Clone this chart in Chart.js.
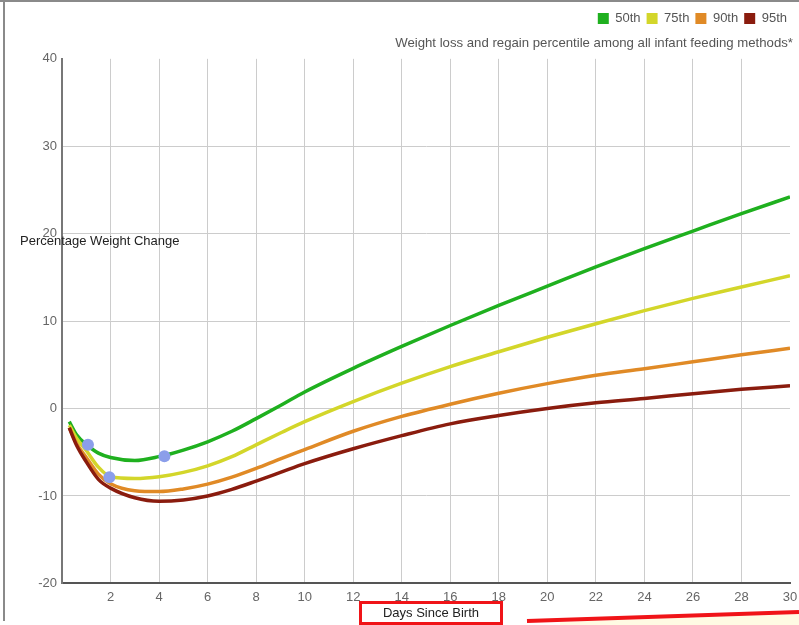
<!DOCTYPE html>
<html>
<head>
<meta charset="utf-8">
<script src="https://cdn.jsdelivr.net/npm/chart.js@4.4.0/dist/chart.umd.min.js"></script>
<style>
  html, body { margin: 0; padding: 0; background: #fff; }
  #wrap { position: relative; width: 799px; height: 625px; }
</style>
</head>
<body>
<div id="wrap"><canvas id="weightChart"></canvas></div>
<script>
// Days since birth and percentile curves (percentage weight change)
const days = [0.3, 0.6, 1, 1.5, 2, 3, 4, 5, 6, 7, 8, 9, 10, 12, 14, 16, 18, 20, 22, 24, 26, 28, 30];
const p50 = [-1.5, -3.0, -4.1, -5.1, -5.6, -5.95, -5.5, -4.75, -3.8, -2.6, -1.15, 0.35, 1.9, 4.6, 7.1, 9.5, 11.8, 14.0, 16.2, 18.3, 20.3, 22.3, 24.2];
const p75 = [-1.9, -3.4, -4.8, -6.7, -7.8, -8.0, -7.8, -7.3, -6.55, -5.5, -4.15, -2.8, -1.5, 0.8, 2.9, 4.8, 6.5, 8.15, 9.7, 11.2, 12.6, 13.9, 15.2];
const p90 = [-2.2, -4.0, -5.6, -7.5, -8.6, -9.4, -9.5, -9.2, -8.65, -7.85, -6.85, -5.75, -4.7, -2.6, -0.9, 0.5, 1.75, 2.85, 3.8, 4.55, 5.35, 6.15, 6.9];
const p95 = [-2.2, -4.2, -6.1, -8.1, -9.1, -10.2, -10.6, -10.45, -10.0, -9.25, -8.3, -7.3, -6.3, -4.6, -3.1, -1.75, -0.8, 0, 0.65, 1.15, 1.7, 2.2, 2.6];

// Highlighted measurements
const markerDays = [1.07, 1.95, 4.22];
const markerValues = [-4.15, -7.85, -5.45];

const seriesNames = ['50th', '75th', '90th', '95th'];
const seriesColors = ['#1fb01f', '#d3d62a', '#e08a26', '#8a1c0e'];
const seriesValues = [p50, p75, p90, p95];

function toPoints(xs, ys) {
    return xs.map((x, i) => ({ x: x, y: ys[i] }));
}

const datasets = seriesValues.map((vals, i) => ({
    label: seriesNames[i],
    data: toPoints(days, vals),
    borderColor: seriesColors[i],
    backgroundColor: seriesColors[i],
    borderWidth: 3.5,
    pointRadius: 0,
    cubicInterpolationMode: 'monotone',
    order: 10 - i
}));

datasets.push({
    label: 'markers',
    data: toPoints(markerDays, markerValues),
    showLine: false,
    pointRadius: 6,
    pointBackgroundColor: '#8b9eea',
    pointBorderWidth: 0,
    order: 0
});

const fontFamily = '"Liberation Sans", Arial, sans-serif';

// Annotations drawn on top: axis titles, frame and the red marks
const extras = {
    id: 'extras',
    afterDraw(chart) {
        const ctx = chart.ctx;
        ctx.save();
        // frame
        ctx.strokeStyle = '#8a8a8a';
        ctx.lineWidth = 2;
        ctx.beginPath();
        ctx.moveTo(0, 1); ctx.lineTo(799, 1);
        ctx.moveTo(4, 0); ctx.lineTo(4, 621);
        ctx.stroke();

        ctx.font = '13px ' + fontFamily;
        ctx.fillStyle = '#222';
        ctx.textBaseline = 'middle';
        ctx.textAlign = 'left';
        ctx.fillText('Percentage Weight Change', 20, 241);

        // yellow strip and red arrow line
        ctx.fillStyle = '#fffbe3';
        ctx.beginPath();
        ctx.moveTo(560, 622); ctx.lineTo(799, 614); ctx.lineTo(799, 625); ctx.lineTo(560, 625);
        ctx.closePath();
        ctx.fill();
        ctx.strokeStyle = '#f01418';
        ctx.lineWidth = 4;
        ctx.beginPath();
        ctx.moveTo(527, 621); ctx.lineTo(799, 612);
        ctx.stroke();

        // x title in red box
        ctx.lineWidth = 3;
        ctx.strokeRect(360.5, 602.5, 141, 21);
        ctx.fillStyle = '#222';
        ctx.textAlign = 'center';
        ctx.fillText('Days Since Birth', 431, 613);
        ctx.restore();
    }
};

const ctx = document.getElementById('weightChart');
new Chart(ctx, {
    type: 'line',
    data: { datasets: datasets },
    options: {
        responsive: true,
        maintainAspectRatio: false,
        animation: false,
        layout: { padding: { left: 0, right: 6, top: 6, bottom: 14 } },
        plugins: {
            legend: {
                position: 'top',
                align: 'end',
                weight: 3000,
                labels: {
                    generateLabels: chart => Chart.defaults.plugins.legend.labels.generateLabels(chart)
                        .filter(item => item.text !== 'markers')
                        .map(item => Object.assign(item, { lineWidth: 0 })),
                    sort: (a, b) => a.datasetIndex - b.datasetIndex,
                    boxWidth: 11,
                    boxHeight: 11,
                    padding: 6,
                    color: '#555',
                    font: { size: 13, family: fontFamily }
                }
            },
            title: {
                display: true,
                text: 'Weight loss and regain percentile among all infant feeding methods*',
                align: 'end',
                color: '#555',
                weight: 500,
                padding: { top: 0, bottom: 8 },
                font: { size: 13.2, weight: 'normal', family: fontFamily }
            },
            tooltip: { enabled: false }
        },
        scales: {
            x: {
                type: 'linear',
                min: 0,
                max: 30,
                afterFit: scale => { scale.paddingRight = 9; scale.paddingLeft = 0; },
                border: { color: '#555', width: 2 },
                grid: {
                    drawTicks: false,
                    color: c => (c.tick.value === 0 || c.tick.value === 30) ? 'rgba(0,0,0,0)' : '#cccccc'
                },
                ticks: {
                    stepSize: 2,
                    padding: 6,
                    color: '#666',
                    maxRotation: 0,
                    callback: v => v === 0 ? '' : v,
                    font: { size: 13, family: fontFamily }
                }
            },
            y: {
                min: -20,
                max: 40,
                afterFit: scale => { scale.width = 62; },
                border: { color: '#777', width: 2 },
                grid: {
                    drawTicks: false,
                    color: c => c.tick.value === 40 ? 'rgba(0,0,0,0)' : '#cccccc'
                },
                ticks: {
                    stepSize: 10,
                    padding: 5,
                    color: '#666',
                    font: { size: 13, family: fontFamily }
                }
            }
        }
    },
    plugins: [extras]
});
</script>
</body>
</html>
